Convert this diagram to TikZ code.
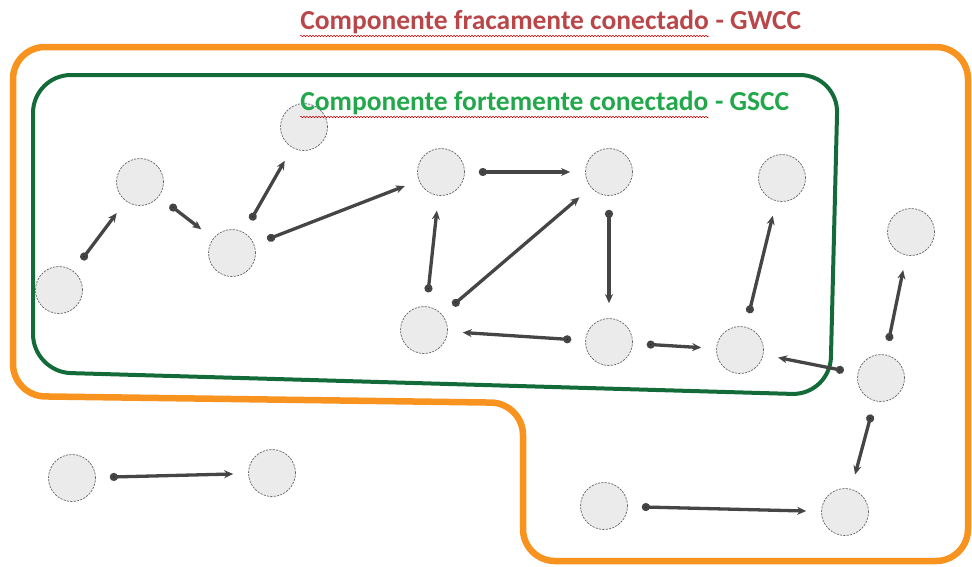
\documentclass[tikz,border=0pt]{standalone}
\usepackage{fontspec}
\setmainfont{Carlito}
\usetikzlibrary{arrows.meta,positioning,decorations.pathmorphing}

\definecolor{weakorange}{HTML}{F7931E}
\definecolor{stronggreen}{HTML}{136B3A}
\definecolor{weaktext}{HTML}{B9474A}
\definecolor{strongtext}{HTML}{22A84B}
\definecolor{linkgray}{HTML}{454545}

\begin{document}
\begin{tikzpicture}[x=1pt, y=-1pt, >={Stealth[length=9pt,width=8pt]}, semithick]

    \tikzstyle{vertex} = [circle, minimum size=47pt, inner sep=0pt, fill=black!8, draw=black!60, dash pattern=on 2.2pt off 1.2pt, line width=0.7pt]
    \tikzstyle{link} = [{Circle[length=8pt,width=8pt]}->, draw=linkgray, line width=3.3pt, shorten <=14pt, shorten >=15pt]
    \tikzstyle{title} = [inner sep=0pt, font=\bfseries\fontsize{27.5}{32}\selectfont]
    \tikzstyle{spell} = [red!80!black, line width=0.5pt, decorate, decoration={snake, amplitude=0.8pt, segment length=3pt}]

    \useasboundingbox (0,0) rectangle (972,566);

    % weak and strong components
    \draw[weakorange, line width=6.5pt, rounded corners=32pt] (13,47) -- (968,47) -- (968,561) -- (523,561) -- (523,403) -- (13,396) -- cycle;
    \draw[stronggreen, line width=4pt, rounded corners=38pt] (33,75) -- (838,75) -- (830,395) -- (33,372) -- cycle;

    \node (v1)  [vertex] at (59,290)  {};
    \node (v2)  [vertex] at (140,182) {};
    \node (v3)  [vertex] at (304,127) {};
    \node (v4)  [vertex] at (232,253) {};
    \node (v5)  [vertex] at (441,172) {};
    \node (v6)  [vertex] at (609,172) {};
    \node (v7)  [vertex] at (782,178) {};
    \node (v8)  [vertex] at (911,232) {};
    \node (v9)  [vertex] at (424,330) {};
    \node (v10) [vertex] at (609,342) {};
    \node (v11) [vertex] at (740,350) {};
    \node (v12) [vertex] at (881,378) {};
    \node (v13) [vertex] at (72,478)  {};
    \node (v14) [vertex] at (272,473) {};
    \node (v15) [vertex] at (604,506) {};
    \node (v16) [vertex] at (845,512) {};

    \path[link] (v1)  edge (v2)
                (v2)  edge (v4)
                (v4)  edge (v3)
                (v4)  edge (v5)
                (v5)  edge (v6)
                (v9)  edge (v5)
                (v9)  edge (v6)
                (v6)  edge (v10)
                (v10) edge (v9)
                (v10) edge (v11)
                (v11) edge (v7)
                (v12) edge (v11)
                (v12) edge (v8)
                (v12) edge (v16)
                (v13) edge (v14)
                (v15) edge (v16);

    % titles
    \node (weak)     [title, text=weaktext, anchor=base west] at (300,29) {Componente fracamente conectado};
    \node (weaktag)  [title, text=weaktext, right=6pt of weak.base east, anchor=base west] {- GWCC};
    \node (strong)   [title, text=strongtext, anchor=base west] at (300,110) {Componente fortemente conectado};
    \node (strongtag)[title, text=strongtext, right=6pt of strong.base east, anchor=base west] {- GSCC};

    \draw[spell] ([yshift=-7pt]weak.base west) -- ([yshift=-7pt]weak.base east);
    \draw[spell] ([yshift=-7pt]strong.base west) -- ([yshift=-7pt]strong.base east);
\end{tikzpicture}
\end{document}
